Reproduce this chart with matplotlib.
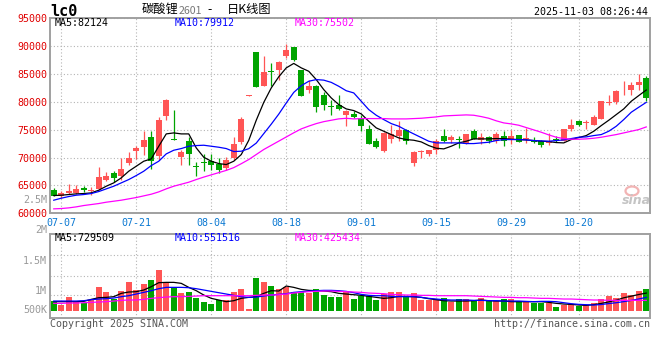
import matplotlib
matplotlib.use("Agg")
import matplotlib.pyplot as plt
from matplotlib.patches import Ellipse

# daily K of lc0 (lithium carbonate), 07-04 .. 10-31
date_labels = ["07-07", "07-21", "08-04", "08-18", "09-01", "09-15", "09-29", "10-20"]
date_idx = [1, 11, 21, 31, 41, 51, 61, 70]

opens = [64140, 63100, 63700, 63700, 64620, 63970, 64380, 66050, 67300, 66770,
         69000, 71200, 71850, 73650, 70250, 77400, 73300, 70060, 73050, 68550,
         69100, 69350, 68870, 68150, 69950, 72750, 81100, 89000, 82900, 85550,
         85650, 88200, 89800, 85800, 82050, 82800, 81200, 79300, 79350, 77700,
         77900, 77100, 75200, 73050, 71150, 73250, 73850, 74900, 68950, 71000,
         70650, 71300, 73950, 73100, 73150, 72450, 74750, 73100, 73650, 73050,
         73950, 73230, 74130, 73400, 73230, 73050, 72640, 73250, 73050, 75200,
         76650, 76200, 75930, 77000, 79800, 79930, 81700, 82200, 83100, 84300]
closes = [63190, 63650, 64000, 64450, 64140, 64260, 66530, 66770, 66250, 67970,
          70000, 71650, 73100, 69350, 76800, 80400, 73200, 70960, 70650, 68300,
          69000, 68750, 67850, 69650, 72350, 77000, 81150, 82600, 85300, 85450,
          87150, 89400, 87600, 81000, 82900, 79050, 79400, 79150, 78800, 78300,
          77250, 75650, 72500, 71850, 74450, 74300, 74900, 72950, 70950, 71050,
          71300, 72950, 73050, 73700, 73100, 74150, 73400, 73700, 73050, 74150,
          73050, 73950, 72760, 73450, 72760, 72220, 72940, 73180, 75210, 75930,
          75930, 76250, 77240, 80100, 79850, 82030, 81750, 83100, 83580, 80650]
highs = [64620, 63950, 65300, 65150, 64950, 64740, 68300, 67350, 67550, 69950,
         71070, 72000, 74700, 74850, 77300, 80450, 78600, 71450, 73650, 69150,
         70700, 70700, 69950, 70050, 73650, 77250, 81150, 89000, 88200, 87000,
         87300, 90300, 89850, 85800, 84000, 83100, 81800, 80300, 81150, 78600,
         78300, 77700, 75900, 73550, 74550, 75900, 76500, 75150, 71150, 71450,
         71450, 73250, 75150, 74130, 73950, 74150, 75150, 74430, 73950, 74610,
         74750, 74910, 74130, 75330, 73710, 73230, 74430, 73950, 75210, 76940,
         76820, 76820, 77600, 80110, 81300, 82200, 83700, 83520, 85070, 84700]
lows = [63060, 62700, 63400, 63550, 63900, 63200, 64260, 65800, 65650, 66050,
        68680, 69800, 70550, 68000, 69500, 76700, 73200, 68600, 68600, 66650,
        67550, 67850, 67250, 67850, 69650, 72350, 81100, 82600, 82800, 82800,
        84000, 87900, 87300, 81000, 81600, 78150, 78600, 77700, 78600, 75750,
        77100, 74700, 72350, 71750, 71050, 72650, 72950, 72500, 68550, 69950,
        70250, 70700, 72750, 72640, 71740, 72350, 73250, 72520, 72640, 72640,
        72150, 72460, 72760, 72640, 72640, 71860, 72340, 72760, 72940, 74850,
        75750, 75210, 75800, 77000, 79500, 79630, 81300, 81300, 82200, 80100]

ma5 = [63188, 63247, 63367, 63487, 63546, 63666, 64144, 64862, 65460, 66357,
       67553, 68450, 69347, 69766, 72038, 74251, 74430, 74251, 74251, 71739,
       70064, 69347, 68928, 68749, 69347, 70542, 73100, 76700, 79900, 82500,
       84500, 86100, 86900, 86100, 85493, 83998, 82204, 80709, 79513, 78736,
       78437, 77839, 76523, 75327, 74729, 74131, 73533, 73234, 73114, 72815,
       72158, 71679, 71560, 72038, 72636, 72935, 73354, 73354, 73354, 73413,
       73413, 73294, 73234, 73174, 73055, 72935, 72875, 72696, 72636, 73234,
       73593, 73952, 74729, 75746, 76702, 77719, 78736, 80111, 81128, 82124]
ma10 = [62350, 62709, 63008, 63247, 63367, 63546, 63905, 64384, 64862, 65460,
        66058, 66776, 67553, 68569, 69347, 70663, 71320, 71619, 72038, 72158,
        72217, 72038, 71859, 71620, 71082, 71141, 71600, 72600, 74300, 76000,
        77800, 79800, 81700, 82900, 83700, 84000, 83900, 83500, 82800, 82000,
        81606, 80111, 78616, 77599, 76822, 76104, 75626, 74908, 74250, 73593,
        72935, 72636, 72636, 72636, 72636, 72516, 72516, 72636, 72756, 73055,
        73234, 73234, 73234, 73174, 73055, 72995, 72935, 73055, 73174, 73413,
        73653, 73712, 73952, 74131, 74729, 75626, 76822, 78138, 79035, 79912]
ma30 = [60796, 60855, 60975, 61154, 61394, 61573, 61752, 61992, 62171, 62351,
        62590, 62829, 63128, 63427, 63845, 64384, 64862, 65221, 65580, 66058,
        66500, 66900, 67300, 67700, 68200, 68900, 69650, 70550, 71450, 72200,
        72950, 73700, 74450, 75150, 75650, 76100, 76450, 76700, 76950, 77050,
        76942, 77001, 77001, 77001, 77001, 76942, 76942, 76942, 77001, 77061,
        77181, 77300, 77480, 77540, 77600, 77660, 77600, 77360, 77061, 76600,
        76224, 76045, 75806, 75387, 74968, 74550, 74071, 73653, 73413, 73294,
        73294, 73354, 73473, 73653, 73892, 74131, 74430, 74729, 75028, 75502]

# volume in thousands of lots
volume = [400, 235, 566, 373, 304, 442, 980, 773, 483, 828,
          1187, 856, 1104, 1270, 1684, 1159, 966, 731, 773, 538,
          373, 276, 442, 442, 773, 883, 69, 1352, 1201, 1021,
          883, 994, 773, 759, 718, 883, 649, 580, 580, 828,
          483, 621, 607, 442, 676, 773, 773, 580, 718, 442,
          442, 497, 538, 373, 483, 483, 400, 524, 400, 400,
          483, 483, 400, 373, 304, 304, 304, 166, 235, 276,
          193, 235, 331, 483, 607, 538, 745, 649, 828, 897]
vol_ma5 = [373, 373, 373, 373, 386, 469, 538, 552, 580, 718,
           773, 787, 856, 994, 1159, 1173, 1173, 1132, 966, 828,
           649, 511, 442, 373, 414, 511, 552, 580, 718, 828,
           814, 1021, 966, 883, 842, 828, 814, 787, 718, 690,
           662, 635, 593, 552, 511, 538, 593, 593, 580, 552,
           497, 455, 414, 400, 400, 400, 414, 442, 414, 400,
           400, 373, 373, 373, 373, 373, 345, 304, 276, 262,
           235, 221, 250, 300, 365, 435, 535, 600, 670, 729.509]
vol_ma10 = [400, 400, 400, 400, 414, 455, 483, 497, 524, 580,
            621, 690, 759, 828, 911, 966, 966, 966, 952, 911,
            856, 800, 745, 690, 635, 580, 552, 566, 607, 649,
            676, 704, 759, 787, 814, 828, 842, 842, 828, 800,
            745, 676, 635, 621, 621, 593, 580, 580, 580, 552,
            511, 483, 455, 442, 442, 442, 428, 428, 414, 414,
            400, 400, 400, 386, 373, 386, 386, 373, 331, 290,
            262, 248, 235, 255, 295, 330, 375, 425, 485, 551.516]
vol_ma30 = [304, 304, 317, 317, 331, 345, 359, 373, 400, 428,
            442, 442, 469, 511, 538, 566, 580, 580, 593, 607,
            621, 621, 621, 621, 621, 621, 621, 635, 649, 649,
            662, 690, 731, 759, 787, 800, 814, 814, 800, 787,
            773, 759, 731, 718, 704, 676, 662, 649, 649, 635,
            635, 621, 621, 621, 621, 621, 607, 593, 580, 566,
            552, 552, 538, 538, 524, 511, 511, 497, 483, 483,
            469, 455, 442, 442, 428, 428, 428, 428, 428, 425.434]

RED = "#ff5555"
GREEN = "#00a400"
GRID = dict(color="#b4b4b4", linestyle=(0, (1, 2)), linewidth=0.8)
MONO = "DejaVu Sans Mono"
CJK = ["Noto Sans CJK SC", "DejaVu Sans"]

plt.rcParams["font.family"] = [MONO, "Noto Sans CJK SC"]

W, H = 660, 360


def box(x0, y0, x1, y1):
    return [x0 / W, 1 - y1 / H, (x1 - x0) / W, (y1 - y0) / H]


def ftext(x, y, s, **kw):
    kw.setdefault("va", "center")
    kw.setdefault("fontsize", 7.2)
    return fig.text(x / W, 1 - y / H, s, **kw)


fig = plt.figure(figsize=(6.6, 3.6), dpi=100)
ax = fig.add_axes(box(50, 18.3, 650, 213.3))
axv = fig.add_axes(box(50, 234.3, 650, 318.3))

n = len(closes)
xs = list(range(n))
colors = [RED if c >= o else GREEN for o, c in zip(opens, closes)]

# candles
ax.vlines(xs, lows, highs, colors=colors, lw=0.9, zorder=3)
body_lo = [min(o, c) for o, c in zip(opens, closes)]
body_h = [max(abs(c - o), 150) for o, c in zip(opens, closes)]
ax.bar(xs, body_h, bottom=body_lo, width=0.78, color=colors, lw=0, zorder=4)
ax.plot(xs, ma5, color="black", lw=0.9, zorder=5)
ax.plot(xs, ma10, color="#0000ff", lw=0.9, zorder=5)
ax.plot(xs, ma30, color="#ff00ff", lw=0.9, zorder=5)

ax.set_xlim(-0.5, n - 0.5)
ax.set_ylim(60000, 95000)
ax.set_yticks(range(60000, 95001, 5000))
ax.set_xticks(date_idx)
ax.set_xticklabels(date_labels)
ax.tick_params(axis="y", length=0, pad=2.2, labelsize=7.2, labelcolor="#e00000")
ax.tick_params(axis="x", length=0, pad=3.4, labelsize=7.2, labelcolor="#0a78d2")
ax.grid(True, **GRID)

# volume
axv.bar(xs, volume, width=0.78, color=colors, lw=0, zorder=3)
axv.plot(xs, vol_ma5, color="black", lw=0.9, zorder=4)
axv.plot(xs, vol_ma10, color="#0000ff", lw=0.9, zorder=4)
axv.plot(xs, vol_ma30, color="#ff00ff", lw=0.9, zorder=4)
axv.set_xlim(-0.5, n - 0.5)
vlo, vhi = -315, 3163
axv.set_ylim(vlo, vhi)
axv.set_xticks(date_idx)
axv.set_xticklabels([])
axv.set_yticks([vlo + f * (vhi - vlo) for f in (0.274, 0.504, 0.754)])
axv.set_yticklabels([])
axv.tick_params(length=0)
axv.grid(True, **GRID)

for a in (ax, axv):
    a.set_axisbelow(True)
    for s in a.spines.values():
        s.set_color("#a0a0a0")
        s.set_linewidth(1.4)

# header
ftext(50, 11.5, "lc0", fontsize=11, fontweight="bold", family=MONO)
ftext(141.7, 9.5, "碳酸锂", fontsize=8.8, family=CJK)
ftext(178.3, 10.5, "2601", fontsize=7.6, color="#777777", family=CJK)
ftext(210, 9.5, "-", fontsize=8.8, ha="center", family=CJK)
ftext(226.7, 9.5, "日K线图", fontsize=8.8, family=CJK)
ftext(648, 12, "2025-11-03 08:26:44", ha="right")

# MA legends
ftext(55, 23.5, f"MA5:{ma5[-1]}", color="black")
ftext(175, 23.5, f"MA10:{ma10[-1]}", color="#0000ff")
ftext(295, 23.5, f"MA30:{ma30[-1]}", color="#ff00ff")
ftext(55, 238.3, f"MA5:{round(vol_ma5[-1] * 1000)}", color="black")
ftext(175, 238.3, f"MA10:{round(vol_ma10[-1] * 1000)}", color="#0000ff")
ftext(295, 238.3, f"MA30:{round(vol_ma30[-1] * 1000)}", color="#ff00ff")

# volume scale labels (Sina draws them at these spots)
for y, s in [(200, "2.5M"), (230, "2M"), (260.8, "1.5M"), (290.7, "1M"), (310, "500K")]:
    ftext(47, y, s, ha="right", color="#999999")

# footer
ftext(50, 324, "Copyright 2025 SINA.COM", color="#555555")
ftext(650, 324, "http://finance.sina.com.cn", ha="right", color="#555555")

# sina watermark
fig.add_artist(Ellipse((632 / W, 1 - 191 / H), 13 / W, 9 / H, transform=fig.transFigure,
                       fill=False, ec="#f2b4b4", lw=1.6))
ftext(636, 201, "sina", fontsize=9, color="#c4c4c4", fontweight="bold",
      fontstyle="italic", ha="center", family="DejaVu Sans")

fig.savefig("out.png", dpi=100)
